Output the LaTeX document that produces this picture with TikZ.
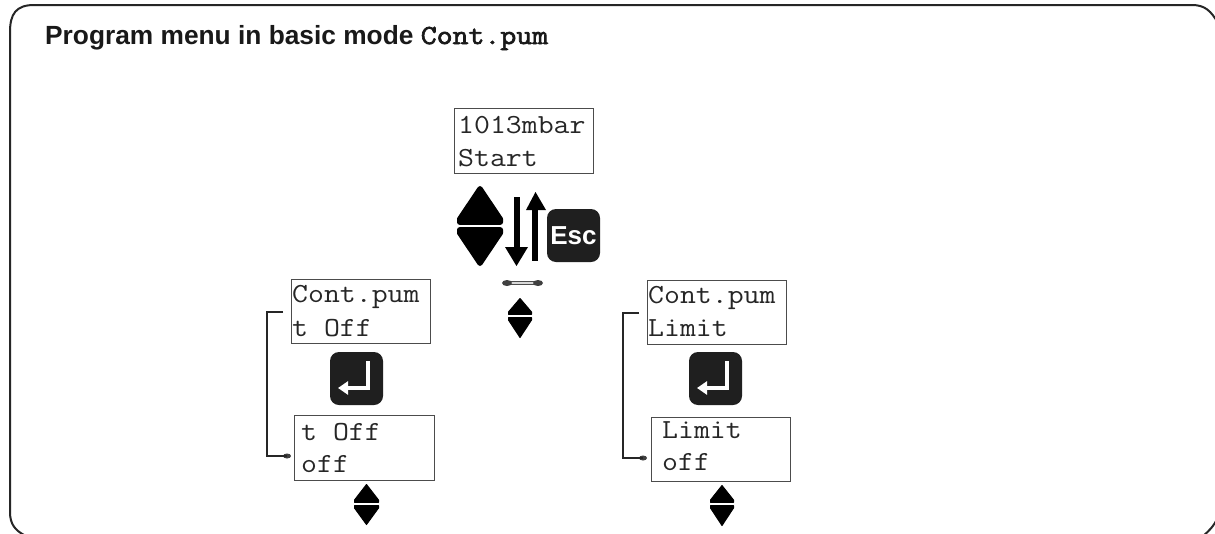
\documentclass[tikz,border=0pt]{standalone}
\usepackage{fontspec}
\setmainfont{Liberation Sans}
\newfontfamily\lcdfont[FakeStretch=1.12]{Latin Modern Mono}
\newfontfamily\codefont[FakeStretch=1.12,FakeBold=2.5]{Latin Modern Mono}
\usetikzlibrary{arrows.meta,shapes.geometric}
\tikzset{
  lcdbox/.style={draw=black!70,line width=0.9pt,fill=white,inner sep=0pt,anchor=north west},
  lcdtext/.style={inner sep=0pt,anchor=base west,font=\lcdfont\fontsize{27.6}{30}\selectfont,text=black!85},
  keycap/.style={fill=black!88,rounded corners=9pt,inner sep=0pt,minimum width=53pt,minimum height=53pt},
  bracket/.style={draw=black!85,line width=2.4pt},
  blob/.style={fill=black!75,ellipse,inner sep=0pt},
  enterarrow/.style={white,line width=4.5pt,-{Triangle[length=10pt,width=13pt]}},
  tri/.style={fill=black,draw=black,line join=round}
}
\newcommand{\updown}[7]{% cx, top, gap, bottom, halfwidth, stroke, shoulder
  \filldraw[tri,line width=#6 pt] (#1,#2+#6/2) -- (#1+#5-#6/2,#3-#7) -- (#1+#5-#6/2,#3-1.2-#6/2) -- (#1-#5+#6/2,#3-1.2-#6/2) -- (#1-#5+#6/2,#3-#7) -- cycle;
  \filldraw[tri,line width=#6 pt] (#1,#4-#6/2) -- (#1+#5-#6/2,#3+#7) -- (#1+#5-#6/2,#3+1.2+#6/2) -- (#1-#5+#6/2,#3+1.2+#6/2) -- (#1-#5+#6/2,#3+#7) -- cycle;
}
\begin{document}
\begin{tikzpicture}[x=1pt,y=-1pt]
\useasboundingbox (0,0) rectangle (1215,533);
\fill[white] (0,0) rectangle (1215,533);
% frame
\draw[black!85,line width=2pt] (24,535) .. controls (15,530) and (10,524) .. (10,512) -- (10,32)
  .. controls (10,14) and (16,5) .. (34,5) -- (1192,5)
  .. controls (1205,5) and (1211,11) .. (1218,23);
\draw[black!85,line width=2pt] (1218,517) .. controls (1214,526) and (1209,531) .. (1203,536);
\node[anchor=base west,inner sep=0pt,font=\bfseries\fontsize{26.3}{28}\selectfont,text=black!90] (title) at (45,44)
  {Program menu in basic mode {\mdseries\codefont\fontsize{27.6}{28}\selectfont Cont.pum}};
% boxes
\node[lcdbox,minimum width=139.5pt,minimum height=65pt] (b0) at (453.5,108) {};
\node[lcdtext] (b0a) at (458,133) {1013mbar};
\node[lcdtext] (b0b) at (458,166) {Start};
\node[lcdbox,minimum width=139pt,minimum height=64pt] (b1) at (291,279) {};
\node[lcdtext] (b1a) at (292,302) {Cont.pum};
\node[lcdtext] (b1b) at (292,336) {t Off};
\node[lcdbox,minimum width=140pt,minimum height=65pt] (b2) at (294,415) {};
\node[lcdtext] (b2a) at (301,440) {t Off};
\node[lcdtext] (b2b) at (301,472) {off};
\node[lcdbox,minimum width=139pt,minimum height=64pt] (b3) at (647,280) {};
\node[lcdtext] (b3a) at (648,303) {Cont.pum};
\node[lcdtext] (b3b) at (648,336) {Limit};
\node[lcdbox,minimum width=139pt,minimum height=64pt] (b4) at (651,417) {};
\node[lcdtext] (b4a) at (662,438) {Limit};
\node[lcdtext] (b4b) at (662,470) {off};
% big up/down
\updown{480}{186}{226}{266}{23}{5}{7}
% arrows
\fill[black] (514,197) rectangle (520,248);
\fill[black] (505,247) -- (528,247) -- (516.5,266) -- cycle;
\fill[black] (532,261) rectangle (538,209);
\fill[black] (526,210) -- (546,210) -- (535.5,192) -- cycle;
% Esc
\node[keycap,text=white,font=\bfseries\fontsize{26}{26}\selectfont] (esc) at (573.5,235.5) {Esc};
% small double link
\coordinate (la) at (507,283);
\coordinate (lb) at (538,283);
\draw[black!70,double=white!85!black,line width=1.6pt,double distance=1.2pt] (la) -- (lb);
\node[blob,minimum width=10pt,minimum height=6pt] (lae) at (la) {};
\node[blob,minimum width=10pt,minimum height=6pt] (lbe) at (lb) {};
\updown{520}{298}{316}{338}{12}{1}{4}
% enter keys
\node[keycap] (k1) at (356.5,378.5) {};
\draw[enterarrow] (368,361) -- (368,388) -- (338,388);
\node[keycap] (k2) at (715.5,378.5) {};
\draw[enterarrow] (727,361) -- (727,388) -- (697,388);
% brackets
\coordinate (c1a) at (283,312);
\node[blob,minimum width=8pt,minimum height=5pt] (c1b) at (287,456) {};
\draw[bracket] (c1a) -- (267,312) -- (267,456) -- (c1b.center);
\coordinate (c2a) at (639,313);
\node[blob,minimum width=8pt,minimum height=5pt] (c2b) at (643,458) {};
\draw[bracket] (c2a) -- (623,313) -- (623,458) -- (c2b.center);
\updown{366.5}{484}{504}{525}{12.5}{1}{4}
\updown{722}{485}{504}{526}{12}{1}{4}
\end{tikzpicture}
\end{document}
